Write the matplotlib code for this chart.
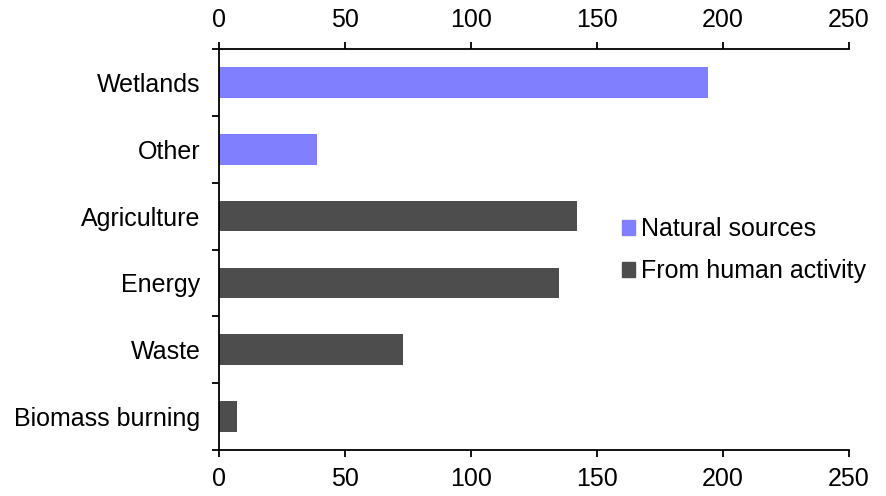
import numpy as np
import matplotlib.pyplot as plt
from matplotlib.patches import Patch

plt.rcParams['font.family'] = ['Liberation Sans', 'DejaVu Sans']

# methane sources (Tg/yr)
categories = ['Wetlands', 'Other', 'Agriculture', 'Energy', 'Waste', 'Biomass burning']
values = [194, 39, 142, 135, 73, 7]
groups = ['Natural sources', 'Natural sources', 'From human activity',
          'From human activity', 'From human activity', 'From human activity']
group_colors = {'Natural sources': '#8080FF', 'From human activity': '#4D4D4D'}
xticks = [0, 50, 100, 150, 200, 250]

fig = plt.figure(figsize=(8.86, 4.96), dpi=100)
ax = fig.add_axes([0.2472, 0.0927, 0.9582 - 0.2472, 0.9012 - 0.0927])

ypos = np.arange(len(categories))
ax.barh(ypos, values, height=0.46, color=[group_colors[g] for g in groups])

ax.set_xlim(0, 250)
ax.set_ylim(len(categories) - 0.5, -0.5)
ax.set_xticks(xticks)
ax.set_yticks(ypos)
ax.set_yticklabels(categories)
ax.set_yticks(np.arange(len(categories) + 1) - 0.5, minor=True)

ax.tick_params(axis='x', which='major', direction='out', length=5, width=1.3,
               top=True, labeltop=True, bottom=True, labelbottom=True,
               labelsize=18, pad=7, color='black')
ax.tick_params(axis='y', which='major', length=0, labelsize=18, pad=13.5)
ax.tick_params(axis='y', which='minor', direction='out', length=5, width=1.3)

ax.spines['right'].set_visible(False)
for s in ['left', 'top', 'bottom']:
    ax.spines[s].set_linewidth(1.3)

handles = [Patch(color=group_colors[g]) for g in ['Natural sources', 'From human activity']]
ax.legend(handles, ['Natural sources', 'From human activity'], frameon=False,
          fontsize=18, loc='center left', bbox_to_anchor=(0.64, 0.4985),
          handlelength=0.52, handleheight=0.52, handletextpad=0.25,
          labelspacing=0.72, borderaxespad=0, borderpad=0)

fig.savefig('out.png', dpi=100)
